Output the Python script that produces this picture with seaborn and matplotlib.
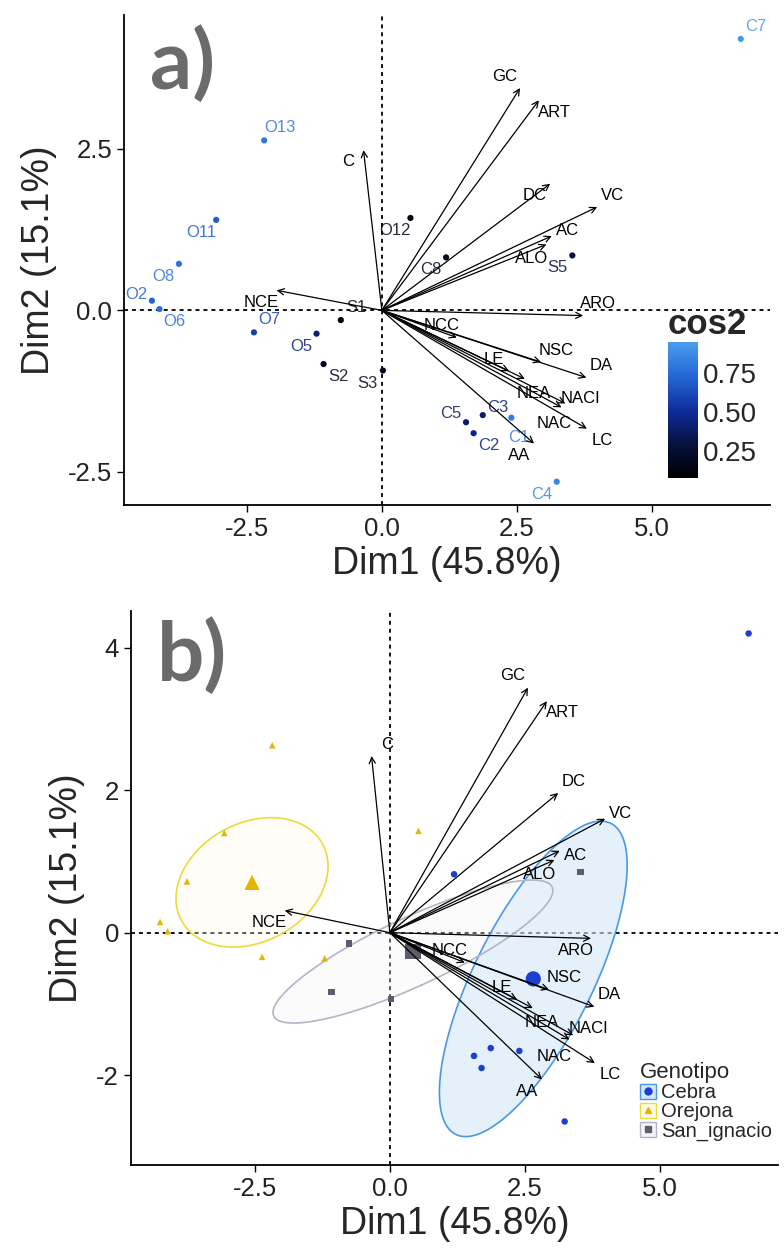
import numpy as np
import pandas as pd
import seaborn as sns
import matplotlib
matplotlib.use("Agg")
import matplotlib.pyplot as plt
from matplotlib.colors import LinearSegmentedColormap, Normalize
from matplotlib.cm import ScalarMappable
from matplotlib.lines import Line2D
from matplotlib.patches import Patch

# individuals (PCA scores)
ind_names = ["O2", "O5", "O6", "O7", "O8", "O11", "O12", "O13",
             "S1", "S2", "S3", "S5",
             "C1", "C2", "C3", "C4", "C5", "C7", "C8"]
ind_dim1 = [-4.26, -1.21, -4.12, -2.37, -3.76, -3.07, 0.53, -2.18,
            -0.76, -1.08, 0.02, 3.53,
            2.40, 1.70, 1.87, 3.24, 1.56, 6.65, 1.19]
ind_dim2 = [0.15, -0.36, 0.02, -0.34, 0.72, 1.40, 1.43, 2.63,
            -0.15, -0.83, -0.93, 0.85,
            -1.66, -1.90, -1.62, -2.65, -1.73, 4.20, 0.82]
ind_cos2 = [0.72, 0.42, 0.76, 0.58, 0.78, 0.70, 0.15, 0.80,
            0.12, 0.18, 0.20, 0.30,
            0.82, 0.45, 0.40, 0.85, 0.38, 0.93, 0.20]
ind_geno = ["Orejona"] * 8 + ["San_ignacio"] * 4 + ["Cebra"] * 7

# variables (arrow tips)
var_names = ["GC", "ART", "C", "DC", "VC", "AC", "ALO", "NCE", "ARO",
             "NCC", "NSC", "DA", "LE", "NEA", "NACI", "NAC", "LC", "AA"]
var_dim1 = [2.56, 2.91, -0.34, 3.12, 3.99, 3.15, 3.05, -1.95, 3.73,
            1.39, 2.95, 3.79, 2.36, 2.65, 3.40, 3.33, 3.80, 2.82]
var_dim2 = [3.44, 3.25, 2.48, 1.96, 1.60, 1.15, 1.02, 0.31, -0.08,
            -0.42, -0.80, -1.04, -0.94, -1.06, -1.44, -1.50, -1.83, -2.06]

genotypes = ["Cebra", "Orejona", "San_ignacio"]

# label placement (direction of the repelled label from its point)
ind_lab_dir = [(-1, 0.5), (-1, -1), (1, -1), (1, 1), (-1, -1), (-1, -1), (-1, -1), (1, 1),
               (1, 1), (1, -1), (-1, -1), (-1, -1),
               (0.5, -1.6), (1, -1), (1, 0.6), (-1, -1), (-1, 0.7), (1, 1), (-1, -1)]
var_lab_dir_a = [(-1, 1), (1, -1), (-1, -1), (-1, -1), (1, 1), (1, 0.5), (-1, -1.2), (-1, -1), (1, 1),
                 (-1, 1), (1, 1), (1, 1), (-1, 1), (0.6, -1.2), (1, 0.4), (-0.5, -1.4), (1, -1), (-1, -1)]
var_lab_dir_b = [(-1, 1), (1, -1), (1, 1), (1, 1), (1, 0.4), (1, -0.4), (-1, -1.2), (-1, -1), (-1, -1),
                 (-1, 1), (1, 1), (1, 1), (-1, 1), (0.6, -1.2), (1, 0.6), (-1, -1.4), (1, -1), (-1, -1)]

ind_df = pd.DataFrame({"name": ind_names, "Dim1": ind_dim1, "Dim2": ind_dim2,
                       "cos2": ind_cos2, "Genotipo": ind_geno})

sns.set_style("ticks")
plt.rcParams["font.family"] = ["Liberation Sans", "DejaVu Sans"]

cos2_cmap = LinearSegmentedColormap.from_list(
    "cos2", ["#000000", "#06113f", "#0f2c9c", "#2567d6", "#4a9cee"])
cos2_norm = Normalize(vmin=0.08, vmax=0.95)

geno_pal = {"Cebra": "#1c3fd2", "Orejona": "#e6b400", "San_ignacio": "#5c5c6c"}
ell_edge = {"Cebra": "#4a98e4", "Orejona": "#e9dc3a", "San_ignacio": "#b4b4c8"}
ell_fill = {"Cebra": "#d3e7f7", "Orejona": "#fdfae6", "San_ignacio": "#f4f4f8"}
ell_alpha = {"Cebra": 0.6, "Orejona": 0.3, "San_ignacio": 0.3}
geno_markers = {"Cebra": "o", "Orejona": "^", "San_ignacio": "s"}

fig = plt.figure(figsize=(7.84, 12.58), dpi=100)
ax1 = fig.add_axes([0.158, 0.5986, 0.824, 0.3895])
ax2 = fig.add_axes([0.167, 0.074, 0.825, 0.440])


def draw_base(ax):
    ax.axhline(0, color="black", lw=1.3, ls=(0, (2.2, 2.2)), zorder=1)
    ax.axvline(0, color="black", lw=1.3, ls=(0, (2.2, 2.2)), zorder=1)


def draw_arrows(ax, lab_dir):
    for name, x, y, (sx, sy) in zip(var_names, var_dim1, var_dim2, lab_dir):
        ax.annotate("", xy=(x, y), xytext=(0, 0),
                    arrowprops=dict(arrowstyle="->", lw=0.9, color="black",
                                    shrinkA=0, shrinkB=0, mutation_scale=11),
                    zorder=4)
        ax.annotate(name, xy=(x, y), xytext=(sx * 11, sy * 8.5),
                    textcoords="offset points", ha="center", va="center",
                    fontsize=12, color="black", zorder=5)


def style_axes(ax, xlim, ylim, yticks, yticklabels):
    ax.set_xlim(*xlim)
    ax.set_ylim(*ylim)
    ax.set_xticks([-2.5, 0, 2.5, 5.0])
    ax.set_xticklabels(["-2.5", "0.0", "2.5", "5.0"])
    ax.set_yticks(yticks)
    ax.set_yticklabels(yticklabels)
    ax.tick_params(labelsize=18.5, length=5, width=1.0, color="black", labelcolor="#222222")
    ax.set_xlabel("Dim1 (45.8%)", fontsize=27, labelpad=4)
    ax.set_ylabel("Dim2 (15.1%)", fontsize=27, labelpad=8)
    for side in ["top", "right"]:
        ax.spines[side].set_visible(False)
    for side in ["left", "bottom"]:
        ax.spines[side].set_linewidth(1.3)
        ax.spines[side].set_color("black")


# ---------- a) individuals coloured by cos2 ----------
draw_base(ax1)
sns.scatterplot(data=ind_df, x="Dim1", y="Dim2", hue="cos2", palette=cos2_cmap,
                hue_norm=cos2_norm, s=20, linewidth=0, legend=False, ax=ax1, zorder=3)
for name, x, y, c, (sx, sy) in zip(ind_names, ind_dim1, ind_dim2, ind_cos2, ind_lab_dir):
    col = cos2_cmap(cos2_norm(c))
    ax1.annotate(name, xy=(x, y), xytext=(sx * 11, sy * 9), textcoords="offset points",
                 ha="center", va="center", fontsize=12, color=col, alpha=0.85, zorder=3)
draw_arrows(ax1, var_lab_dir_a)
style_axes(ax1, (-4.78, 7.19), (-3.01, 4.57), [-2.5, 0, 2.5], ["-2.5", "0.0", "2.5"])
ax1.text(0.04, 0.98, "a)", transform=ax1.transAxes, fontsize=60, fontweight="bold",
         family=["Lato", "DejaVu Sans"], color="#6b6b6b", ha="left", va="top")

cax = fig.add_axes([0.852, 0.620, 0.038, 0.108])
cb = fig.colorbar(ScalarMappable(norm=cos2_norm, cmap=cos2_cmap), cax=cax)
cb.set_ticks([0.25, 0.50, 0.75])
cb.set_ticklabels(["0.25", "0.50", "0.75"])
cb.outline.set_visible(False)
cax.tick_params(labelsize=20, length=4, width=1, color="white", direction="in", pad=4)
cax.set_title("cos2", fontsize=25, fontweight="bold", loc="left", pad=6)

# ---------- b) individuals coloured by genotype ----------
draw_base(ax2)
chi2_95 = 5.991
t = np.linspace(0, 2 * np.pi, 200)
for g in genotypes:
    sub = ind_df[ind_df["Genotipo"] == g]
    pts = sub[["Dim1", "Dim2"]].to_numpy()
    center = pts.mean(axis=0)
    cov = np.cov(pts.T) / len(pts)
    vals, vecs = np.linalg.eigh(cov)
    circle = np.vstack([np.cos(t), np.sin(t)])
    ell = (vecs @ (np.sqrt(vals * chi2_95)[:, None] * circle)).T + center
    ax2.fill(ell[:, 0], ell[:, 1], color=ell_fill[g], alpha=ell_alpha[g], lw=0, zorder=1)
    ax2.plot(ell[:, 0], ell[:, 1], color=ell_edge[g], lw=1.2, zorder=2)

sns.scatterplot(data=ind_df, x="Dim1", y="Dim2", hue="Genotipo", style="Genotipo",
                palette=geno_pal, markers=geno_markers, s=22, linewidth=0,
                legend=False, ax=ax2, zorder=3)
centroids = ind_df.groupby("Genotipo", as_index=False)[["Dim1", "Dim2"]].mean()
sns.scatterplot(data=centroids, x="Dim1", y="Dim2", hue="Genotipo", style="Genotipo",
                palette=geno_pal, markers=geno_markers, s=120, linewidth=0,
                legend=False, ax=ax2, zorder=3)
draw_arrows(ax2, var_lab_dir_b)
style_axes(ax2, (-4.80, 7.19), (-3.26, 4.51), [-2, 0, 2, 4], ["-2", "0", "2", "4"])
ax2.text(0.04, 0.99, "b)", transform=ax2.transAxes, fontsize=60, fontweight="bold",
         family=["Lato", "DejaVu Sans"], color="#6b6b6b", ha="left", va="top")

handles = []
for g in genotypes:
    box = Patch(facecolor=ell_fill[g], edgecolor=ell_edge[g], lw=1.0)
    mk = Line2D([], [], ls="", marker=geno_markers[g], color=geno_pal[g], markersize=5)
    handles.append((box, mk))
leg = ax2.legend(handles, genotypes, title="Genotipo", loc="upper left",
                 bbox_to_anchor=(0.775, 0.20), frameon=False, fontsize=14.5,
                 title_fontsize=16, handlelength=0.8, handleheight=0.8,
                 handletextpad=0.25, labelspacing=0.0, borderaxespad=0)
leg._legend_box.align = "left"

fig.savefig("out.png", dpi=100)
plt.close(fig)
